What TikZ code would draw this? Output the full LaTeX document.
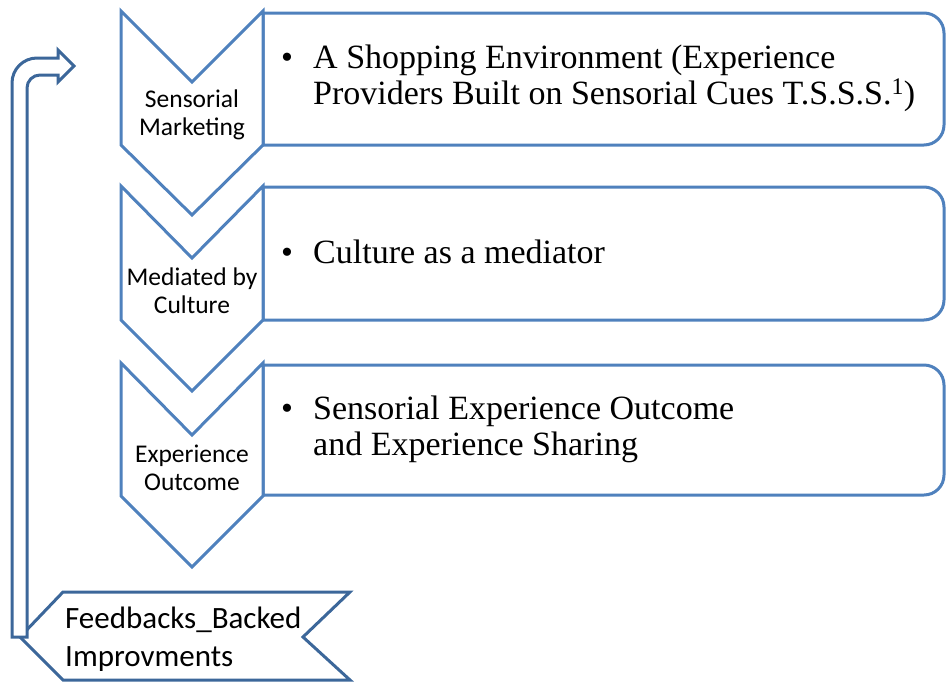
\documentclass[tikz,border=0pt]{standalone}
\usepackage{fontspec}
\setmainfont{Liberation Serif}
\newfontfamily\labelfont{Carlito}
\definecolor{chev}{HTML}{4F81BD}
\definecolor{loopblue}{HTML}{3C679A}
% two lines stacked, baseline on the first line
\newcommand\twolines[2]{\vtop{\hbox{#1}\hbox{#2}}}
\begin{document}
\begin{tikzpicture}[x=1pt,y=-1pt,
  chevshape/.style={draw=chev,line width=3pt,line join=miter,fill=white},
  listbox/.style={draw=chev,line width=3pt,fill=white},
  loopshape/.style={draw=loopblue,line width=3pt,fill=white,line join=miter},
  chevlabel/.style={font=\labelfont\fontsize{25.5}{28}\selectfont,align=center,inner sep=0pt},
  boxtext/.style={font=\fontsize{34}{36}\selectfont,anchor=base west,inner sep=0pt},
  bullet/.style={font=\fontsize{34}{36}\selectfont,anchor=base west,inner sep=0pt},
  fbtext/.style={font=\labelfont\fontsize{31}{38}\selectfont,align=left,anchor=west,inner sep=0pt}]
\useasboundingbox (0,0) rectangle (946,681);

% rounded list boxes (right corners rounded)
\foreach \t/\b in {13/145, 187/320, 365/495}{
  \draw[listbox] (263,\t) -- (924,\t) arc[start angle=-90,end angle=0,radius=20] -- (944,\b-20)
    arc[start angle=0,end angle=90,radius=20] -- (263,\b) -- cycle;
}

% chevrons
\foreach \t/\n/\s/\p in {11/82/145/215, 186/258/320/391, 363/435/496/567}{
  \draw[chevshape] (121,\t) -- (192,\n) -- (263,\t) -- (263,\s) -- (192,\p) -- (121,\s) -- cycle;
}

% chevron labels
\node[chevlabel] (c1) at (192,115) {Sensorial\\Marketing};
\node[chevlabel] (c2) at (192,291) {Mediated by\\Culture};
\node[chevlabel] (c3) at (192,468) {Experience\\Outcome};

% box texts (first baselines)
\node[bullet] (b1) at (281,68) {•};
\node[boxtext] (t1) at (313,68) {\twolines{A Shopping Environment (Experience}{Providers Built on Sensorial Cues T.S.S.S.\textsuperscript{1})}};
\node[bullet] (b2) at (281,263) {•};
\node[boxtext] (t2) at (313,263) {Culture as a mediator};
\node[bullet] (b3) at (281,419) {•};
\node[boxtext] (t3) at (313,419) {\twolines{Sensorial Experience Outcome}{and Experience Sharing}};

% feedback banner
\draw[loopshape] (63,592) -- (350,592) -- (303,637) -- (350,680) -- (63,680) -- (20,637) -- cycle;
\node[fbtext] (fb) at (65,639) {Feedbacks\_Backed\\Improvments};

% bent-up return arrow
\draw[loopshape] (12,637) -- (12,83) arc[start angle=180,end angle=270,radius=25] -- (58,58) -- (58,50)
  -- (74,66) -- (58,82) -- (58,75) -- (40,75) arc[start angle=-90,end angle=-180,radius=13] -- (27,637) -- cycle;
\end{tikzpicture}
\end{document}
